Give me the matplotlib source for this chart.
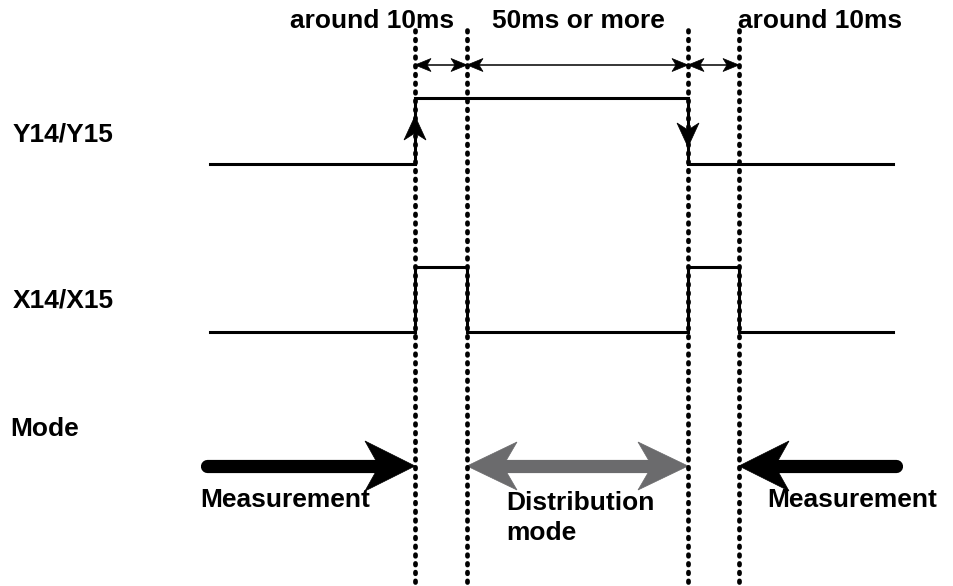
import matplotlib
matplotlib.use("Agg")
from matplotlib import pyplot as plt
from matplotlib.patches import Polygon

plt.rcParams['font.family'] = ['Liberation Sans', 'DejaVu Sans']

# edge positions along the time axis (pixel-like units)
edges = [415, 467, 688, 739]
t_start, t_end = 210, 893

# signal levels (y, screen units: top = 0)
y14_low, y14_high = 164, 98
x14_low, x14_high = 332, 267

y14_t = [t_start, edges[0], edges[0], edges[2], edges[2], t_end]
y14_v = [y14_low, y14_low, y14_high, y14_high, y14_low, y14_low]

x14_t = [t_start, edges[0], edges[0], edges[1], edges[1], edges[2], edges[2],
         edges[3], edges[3], t_end]
x14_v = [x14_low, x14_low, x14_high, x14_high, x14_low, x14_low, x14_high,
         x14_high, x14_low, x14_low]

span_labels = ["around 10ms", "50ms or more", "around 10ms"]
row_labels = ["Y14/Y15", "X14/X15", "Mode"]
mode_labels = ["Measurement", "Distribution\nmode", "Measurement"]

FS = 19


def head(ax, tip, d, hl, hw, notch, color):
    """stealth style arrow head, tip at `tip`, pointing along d"""
    tx, ty = tip
    dx, dy = d
    nx, ny = -dy, dx
    pts = [(tx, ty),
           (tx - dx * hl + nx * hw / 2, ty - dy * hl + ny * hw / 2),
           (tx - dx * (hl - notch), ty - dy * (hl - notch)),
           (tx - dx * hl - nx * hw / 2, ty - dy * hl - ny * hw / 2)]
    ax.add_patch(Polygon(pts, closed=True, facecolor=color,
                         edgecolor=color, lw=0.5, zorder=3))


fig = plt.figure(figsize=(9.54, 5.86), dpi=100)
ax = fig.add_axes([0, 0, 1, 1])
ax.set_xlim(0, 954)
ax.set_ylim(586, 0)
ax.axis('off')

# signals
ax.plot(y14_t, y14_v, color='black', lw=2.2, solid_joinstyle='miter', zorder=2)
ax.plot(x14_t, x14_v, color='black', lw=2.2, solid_joinstyle='miter', zorder=2)

# edge direction arrows on Y14/Y15
head(ax, (edges[0], 116), (0, -1), 24, 22, 7, 'black')
head(ax, (edges[2], 147), (0, 1), 24, 22, 7, 'black')

# dimension arrows
dim_y = 65
for a, b in zip(edges[:-1], edges[1:]):
    ax.plot([a, b], [dim_y, dim_y], color='black', lw=1.1, zorder=2)
    head(ax, (b, dim_y), (1, 0), 16, 13, 4, 'black')
    head(ax, (a, dim_y), (-1, 0), 16, 13, 4, 'black')

# mode arrows
mode_y = 466
ax.plot([207, edges[0] - 30], [mode_y, mode_y], color='black', lw=9.5,
        solid_capstyle='round', zorder=2)
head(ax, (edges[0], mode_y), (1, 0), 50, 50, 14, 'black')

ax.plot([896, edges[3] + 30], [mode_y, mode_y], color='black', lw=9.5,
        solid_capstyle='round', zorder=2)
head(ax, (edges[3], mode_y), (-1, 0), 50, 50, 14, 'black')

gray = '#6b6b6d'
ax.plot([edges[1] + 30, edges[2] - 30], [mode_y, mode_y], color=gray, lw=9.5,
        solid_capstyle='butt', zorder=2)
head(ax, (edges[2], mode_y), (1, 0), 50, 48, 14, gray)
head(ax, (edges[1], mode_y), (-1, 0), 50, 48, 14, gray)

# dotted guide lines (on top of everything)
for x in edges:
    ax.plot([x, x], [30, 590], color='black', lw=3.4,
            linestyle=(0, (0.35, 1.5)), dash_capstyle='round', zorder=4)

# span labels
ax.text(372, 21, span_labels[0], ha='center', va='center',
        fontsize=FS, fontweight='bold')
ax.text(578, 21, span_labels[1], ha='center', va='center',
        fontsize=FS, fontweight='bold')
ax.text(820, 21, span_labels[2], ha='center', va='center',
        fontsize=FS, fontweight='bold')

# row labels
ax.text(13, 135, row_labels[0], ha='left', va='center',
        fontsize=FS, fontweight='bold')
ax.text(13, 300, row_labels[1], ha='left', va='center',
        fontsize=FS, fontweight='bold')
ax.text(10, 429, row_labels[2], ha='left', va='center',
        fontsize=FS, fontweight='bold')

ax.text(285, 500, mode_labels[0], ha='center', va='center',
        fontsize=FS, fontweight='bold')
ax.text(852, 500, mode_labels[2], ha='center', va='center',
        fontsize=FS, fontweight='bold')
ax.text(506, 518, mode_labels[1], ha='left', va='center',
        fontsize=FS, fontweight='bold', linespacing=1.3)

fig.savefig("out.png", dpi=100)
